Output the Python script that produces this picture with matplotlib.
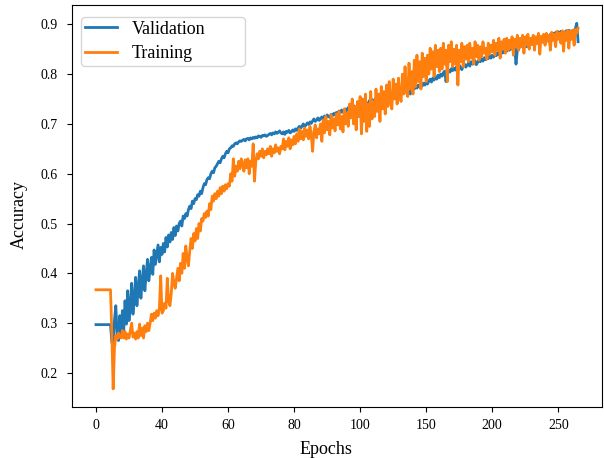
import numpy as np
import matplotlib
matplotlib.use("Agg")
import matplotlib.pyplot as plt

# -----------------------------
# Data (accuracy x 1000, one value per epoch step)
# -----------------------------
val_acc = [
    297, 297, 297, 297, 297, 297, 297, 297, 297, 297, 297, 297,
    262, 255, 305, 335, 280, 265, 315, 272, 325,
    285, 345, 298, 365, 305, 335, 380, 318, 350, 392,
    335, 372, 405, 350, 385, 415, 365, 398, 428, 385,
    410, 432, 398, 447, 418, 437, 457, 423, 452, 438,
    460, 443, 472, 453, 477, 463, 482, 468, 492, 476,
    495, 485, 500, 505, 495, 515, 510, 520, 515, 528,
    535, 530, 545, 540, 550, 548, 558, 555, 565, 560,
    572, 580, 578, 588, 592, 590, 600, 605, 602, 612,
    615, 620, 625, 622, 630, 635, 632, 640, 645, 642,
    650, 652, 656, 655, 660, 662, 660, 664, 666, 665,
    667, 669, 666, 670, 671, 668, 672, 670, 673, 671,
    674, 672, 676, 675, 673, 677, 676, 678, 675, 677,
    679, 681, 678, 682, 680, 684, 681, 683, 686, 682,
    680, 684, 679, 685, 683, 687, 682, 684, 688, 685,
    690, 687, 692, 695, 691, 696, 700, 694, 698, 702,
    699, 704, 701, 706, 710, 705, 708, 712, 707, 711,
    714, 709, 716, 712, 718, 715, 713, 719, 716, 721,
    718, 723, 720, 726, 722, 728, 725, 721, 730, 727,
    733, 728, 735, 731, 737, 734, 730, 738, 735, 740,
    737, 742, 739, 745, 741, 738, 747, 743, 749, 745,
    748, 752, 746, 755, 750, 744, 757, 753, 749, 758,
    754, 760, 756, 751, 762, 758, 764, 757, 761, 766,
    762, 768, 764, 770, 766, 772, 767, 760, 771, 774,
    770, 776, 772, 778, 774, 780, 776, 782, 778, 784,
    780, 786, 790, 784, 792, 788, 795, 790, 798, 793,
    800, 796, 803, 806, 785, 800, 808, 804, 811, 807,
    812, 808, 815, 810, 818, 813, 809, 816, 820, 814,
    818, 822, 816, 825, 820, 823, 827, 819, 824, 828,
    825, 830, 826, 833, 829, 835, 831, 836, 832, 838,
    834, 840, 837, 843, 839, 845, 841, 847, 843, 849,
    846, 851, 848, 853, 850, 856, 852, 820, 848, 857,
    854, 859, 856, 861, 858, 855, 862, 859, 863, 860,
    864, 861, 866, 862, 867, 864, 869, 865, 870, 866,
    871, 868, 873, 880, 876, 882, 878, 884, 880, 885,
    881, 886, 883, 885, 882, 887, 884, 888, 885, 887,
    883, 888, 892, 902, 865,
]

train_acc = [
    367, 367, 367, 367, 367, 367, 367, 367, 367, 367, 367, 367,
    280, 168, 250, 275, 268, 280, 272, 270, 285,
    270, 283, 268, 278, 270, 285, 300, 272, 280, 268,
    283, 270, 298, 275, 290, 270, 295, 283, 300, 285,
    300, 318, 305, 320, 310, 325, 315, 330, 395, 320,
    325, 340, 330, 390, 345, 335, 360, 400, 380, 370,
    390, 410, 385, 420, 400, 440, 410, 455, 430, 415,
    445, 470, 450, 480, 465, 490, 470, 500, 485, 510,
    505, 520, 512, 525, 515, 540, 528, 555, 545, 560,
    550, 565, 555, 572, 560, 575, 565, 578, 570, 580,
    575, 600, 585, 630, 595, 615, 605, 625, 610, 630,
    620, 605, 628, 612, 630, 600, 625, 615, 660, 585,
    625, 640, 630, 645, 635, 650, 632, 645, 638, 650,
    640, 655, 635, 650, 642, 658, 645, 652, 640, 655,
    650, 670, 648, 665, 655, 672, 650, 668, 658, 675,
    660, 680, 665, 690, 670, 685, 668, 692, 675, 688,
    670, 695, 678, 645, 685, 698, 672, 690, 680, 700,
    665, 708, 682, 715, 688, 705, 678, 718, 692, 710,
    686, 720, 698, 725, 690, 715, 684, 730, 700, 722,
    695, 740, 712, 750, 700, 735, 688, 745, 715, 755,
    680, 750, 705, 760, 685, 740, 695, 765, 710, 745,
    715, 770, 725, 760, 705, 775, 730, 765, 720, 778,
    735, 785, 745, 730, 790, 750, 780, 740, 792, 755,
    745, 800, 760, 815, 765, 755, 822, 770, 805, 760,
    828, 775, 838, 785, 825, 770, 842, 795, 832, 785,
    838, 800, 852, 810, 845, 795, 858, 815, 848, 805,
    852, 810, 862, 820, 848, 785, 858, 825, 865, 815,
    850, 820, 858, 778, 848, 825, 862, 815, 855, 830,
    858, 825, 862, 832, 852, 820, 865, 835, 858, 828,
    855, 835, 865, 842, 852, 830, 862, 840, 858, 845,
    868, 838, 862, 848, 872, 832, 865, 850, 870, 842,
    872, 848, 868, 852, 875, 838, 870, 855, 878, 848,
    872, 855, 878, 842, 875, 858, 880, 850, 872, 860,
    878, 848, 875, 862, 882, 840, 876, 864, 880, 858,
    882, 866, 878, 848, 884, 868, 880, 855, 886, 870,
    882, 862, 887, 846, 884, 868, 888, 852, 886, 870,
    888, 858, 890, 882, 892,
]

# the original figure relabelled its evenly spaced ticks
tick_pos = [0, 50, 100, 150, 200, 250, 300, 350]
tick_labels = ["0", "40", "60", "80", "100", "150", "200", "250"]

# -----------------------------
# Plot
# -----------------------------
plt.rcParams["font.family"] = ["Liberation Serif", "DejaVu Serif"]

val = np.array(val_acc) / 1000.0
train = np.array(train_acc) / 1000.0

fig = plt.figure(figsize=(6.04, 4.58), dpi=100)
ax = fig.add_axes([0.119, 0.111, 0.878, 0.878])

ax.plot(np.arange(len(val)), val, color="#1f77b4", lw=2.0, label="Validation")
ax.plot(np.arange(len(train)), train, color="#ff7f0e", lw=2.0, label="Training")

ax.set_xticks(tick_pos)
ax.set_xticklabels(tick_labels)
ax.set_yticks([0.2, 0.3, 0.4, 0.5, 0.6, 0.7, 0.8, 0.9])
ax.tick_params(axis="y", labelsize=10, pad=7)
ax.tick_params(axis="x", labelsize=10, pad=5)
ax.set_xlabel("Epochs", fontsize=13)
ax.set_ylabel("Accuracy", fontsize=13)
ax.xaxis.set_label_coords(0.48, -0.085)
ax.yaxis.set_label_coords(-0.083, 0.48)

ax.legend(loc="upper left", bbox_to_anchor=(0.017, 0.97, 0.309, 0.0),
          mode="expand", borderaxespad=0, fontsize=13, handlelength=1.8,
          borderpad=0.2, labelspacing=0.4)

fig.savefig("out.png", dpi=100)
